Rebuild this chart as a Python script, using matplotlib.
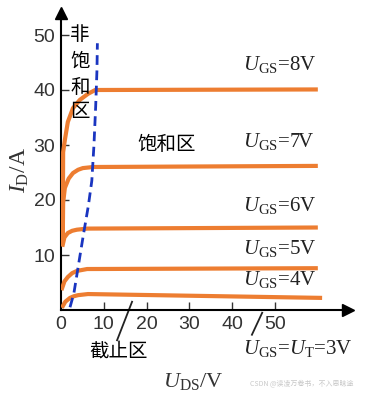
import numpy as np
import matplotlib.pyplot as plt

plt.rcParams['font.family'] = ['Liberation Sans', 'Noto Sans CJK SC']
plt.rcParams['mathtext.fontset'] = 'custom'
plt.rcParams['mathtext.rm'] = 'Liberation Serif'
plt.rcParams['mathtext.it'] = 'Liberation Serif:italic'

# output curves (U_DS in V, I_D in A)
x8 = [0.4, 0.45, 0.5, 0.9, 1.6, 2.8, 4.4, 6.3, 8.0, 60]
y8 = [12, 20, 28.7, 30.9, 34.2, 36.7, 38.2, 39.3, 40.0, 40.1]
x7 = [0.4, 0.5, 0.9, 1.8, 2.8, 4.0, 5.1, 7.5, 60]
y7 = [12, 19.5, 22.2, 23.9, 24.9, 25.5, 25.8, 26.0, 26.2]
x6 = [0.3, 0.8, 1.6, 2.6, 3.7, 6.1, 60]
y6 = [11.5, 13.2, 14.0, 14.4, 14.6, 14.8, 15.0]
x5 = [0.1, 0.8, 1.6, 2.6, 3.7, 6.1, 60]
y5 = [3.6, 5.2, 6.0, 6.7, 7.1, 7.45, 7.6]
x4 = [0.2, 1.0, 2.1, 3.0, 4.0, 6.3, 61]
y4 = [0.4, 1.5, 2.2, 2.5, 2.7, 2.9, 2.2]

# boundary between non-saturation and saturation region
xb = [2.1, 3.0, 4.0, 5.3, 6.4, 7.2, 7.7, 8.1, 8.4, 8.5]
yb = [0.5, 3.0, 7.8, 14, 19, 23.5, 30, 37, 43.6, 48.5]

curve_labels = ['8V', '7V', '6V', '5V', '4V']
label_y = [44.6, 30.6, 19, 11.2, 5.5]
xticks = [0, 10, 20, 30, 40, 50]
yticks = [10, 20, 30, 40, 50]

orange = '#ED7D31'
fig = plt.figure(figsize=(3.65, 3.96), dpi=100)
ax = fig.add_axes([61 / 365, 86 / 396, 286.8 / 365, 297 / 396])
ax.set_xlim(0, 67)
ax.set_ylim(0, 54)

for xs, ys in [(x8, y8), (x7, y7), (x6, y6), (x5, y5), (x4, y4)]:
    ax.plot(xs, ys, color=orange, lw=3, solid_capstyle='butt', solid_joinstyle='round', zorder=3)
ax.plot(xb, yb, color='#1a35c0', lw=2, ls=(0, (3.5, 2)), zorder=4)

for spine in ['top', 'right']:
    ax.spines[spine].set_visible(False)
ax.spines['left'].set_linewidth(1.5)
ax.spines['bottom'].set_linewidth(1.5)
ax.plot(1, 0, '>k', ms=9, transform=ax.get_yaxis_transform(), clip_on=False)
ax.plot(0, 1, '^k', ms=9, transform=ax.get_xaxis_transform(), clip_on=False)

ax.set_xticks(xticks)
ax.set_yticks(yticks)
ax.tick_params(direction='in', length=6, width=1, labelsize=14, colors='#333333', pad=4)

serif = ['Liberation Serif']
ax.text(-9.5, 25.5, r'$I_{\rm D}$/A', rotation=90, fontsize=17, family=serif, ha='center',
        va='center', color='#333333', clip_on=False)
ax.text(31, -13, r'$U_{\rm DS}$/V', fontsize=16, family=serif, ha='center', va='center',
        color='#333333', clip_on=False)

for lab, yy in zip(curve_labels, label_y):
    ax.text(42.5, yy, r'$U_{\rm GS}$=' + lab, fontsize=15, family=serif, ha='left',
            va='center', color='#222222')
ax.text(42.5, -7, r'$U_{\rm GS}$=$U_{\rm T}$=3V', fontsize=15, family=serif, ha='left',
        va='center', color='#222222', clip_on=False)

for ch, yy in zip('非饱和区', [50, 45.2, 40.4, 36]):
    ax.text(4.4, yy, ch, fontsize=14, family='Noto Sans CJK SC', ha='center', va='center')
ax.text(24.6, 30, '饱和区', fontsize=14, family='Noto Sans CJK SC', ha='center', va='center')
ax.text(13.5, -7.5, '截止区', fontsize=14, family='Noto Sans CJK SC', ha='center', va='center',
        clip_on=False)
ax.plot([16.6, 13.1], [1.5, -5.5], color='#222222', lw=1.3, clip_on=False)
ax.plot([47, 44.6], [-0.5, -4.5], color='#222222', lw=1.3, clip_on=False)

fig.text(302 / 365, 1 - 383 / 396, 'CSDN @读凌万卷书，不入思昧途', fontsize=5,
         family='Noto Sans CJK SC', color='#c8c8c8', ha='center', va='center')

fig.savefig('out.png', dpi=100)
